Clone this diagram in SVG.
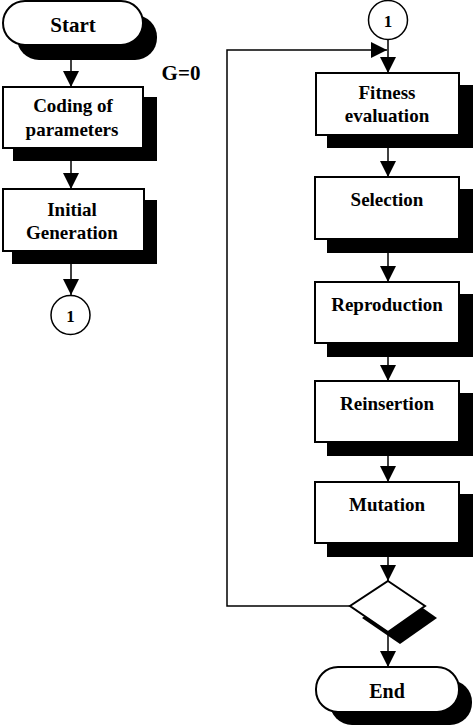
<svg xmlns="http://www.w3.org/2000/svg" width="474" height="727" viewBox="0 0 474 727">
<style>
.box{fill:#fff;stroke:#000;stroke-width:2}
.sh{fill:#000}
.t{font-family:"Liberation Serif","Times New Roman",serif;font-weight:bold;font-size:19px;text-anchor:middle;fill:#000}
.big{font-size:21px}
.c{fill:#fff;stroke:#000;stroke-width:1.5}
.ln{fill:none;stroke:#000;stroke-width:1.5}
</style>
<defs>
<marker id="ah" markerUnits="userSpaceOnUse" markerWidth="18" markerHeight="16" viewBox="0 0 18 16" refX="16" refY="8" orient="auto">
<path d="M0,0 L16,8 L0,16 Z" fill="#000"/>
</marker>
</defs>
<rect width="474" height="727" fill="#fff"/>
<g id="connectors">
<line class="ln" x1="71" y1="60" x2="71" y2="87" marker-end="url(#ah)"/>
<line class="ln" x1="71" y1="161" x2="71" y2="189" marker-end="url(#ah)"/>
<line class="ln" x1="71" y1="264" x2="71" y2="295" marker-end="url(#ah)"/>
<line class="ln" x1="388" y1="40" x2="388" y2="73" marker-end="url(#ah)"/>
<line class="ln" x1="388" y1="148" x2="388" y2="177" marker-end="url(#ah)"/>
<line class="ln" x1="388" y1="253" x2="388" y2="282" marker-end="url(#ah)"/>
<line class="ln" x1="388" y1="357" x2="388" y2="381" marker-end="url(#ah)"/>
<line class="ln" x1="388" y1="456" x2="388" y2="482" marker-end="url(#ah)"/>
<line class="ln" x1="388" y1="557" x2="388" y2="581" marker-end="url(#ah)"/>
<line class="ln" x1="388" y1="633" x2="388" y2="667" marker-end="url(#ah)"/>
<polyline class="ln" points="350,606 227,606 227,50 387,50" marker-end="url(#ah)"/>
</g>
<g id="start">
<rect class="sh" x="17" y="15" width="140" height="45" rx="22" ry="22"/>
<rect class="box" x="3" y="1" width="140" height="44" rx="22" ry="22"/>
<text class="t big" x="73" y="32">Start</text>
</g>
<text class="t big" x="181" y="80">G=0</text>
<g id="coding">
<rect class="sh" x="13" y="97" width="144" height="64"/>
<rect class="box" x="3" y="87" width="140" height="61"/>
<text class="t" x="73" y="112">Coding of</text>
<text class="t" x="72" y="136">parameters</text>
</g>
<g id="initial">
<rect class="sh" x="12" y="200" width="145" height="64"/>
<rect class="box" x="3" y="189" width="141" height="62"/>
<text class="t" x="72" y="216">Initial</text>
<text class="t" x="72" y="239">Generation</text>
</g>
<g id="conn1-left">
<circle class="c" cx="70.5" cy="315" r="19.5"/>
<text class="t" x="70.5" y="322" style="font-size:17px">1</text>
</g>
<g id="conn1-right">
<circle class="c" cx="388" cy="20" r="19.5"/>
<text class="t" x="388" y="27" style="font-size:17px">1</text>
</g>
<g id="fitness">
<rect class="sh" x="327" y="85" width="146" height="63"/>
<rect class="box" x="316" y="73" width="143" height="62"/>
<text class="t" x="387" y="99">Fitness</text>
<text class="t" x="387" y="122">evaluation</text>
</g>
<g id="selection">
<rect class="sh" x="327" y="189" width="146" height="64"/>
<rect class="box" x="315" y="177" width="144" height="62"/>
<text class="t" x="387" y="206">Selection</text>
</g>
<g id="reproduction">
<rect class="sh" x="327" y="294" width="146" height="63"/>
<rect class="box" x="315" y="282" width="144" height="61"/>
<text class="t" x="387" y="311">Reproduction</text>
</g>
<g id="reinsertion">
<rect class="sh" x="327" y="393" width="146" height="63"/>
<rect class="box" x="315" y="381" width="144" height="61"/>
<text class="t" x="387" y="410">Reinsertion</text>
</g>
<g id="mutation">
<rect class="sh" x="327" y="494" width="146" height="63"/>
<rect class="box" x="315" y="482" width="144" height="61"/>
<text class="t" x="387" y="511">Mutation</text>
</g>
<g id="decision">
<polygon class="sh" points="400,592 437,618 400,644 362,618"/>
<polygon class="box" points="388,581 425,606 388,632 350,606"/>
</g>
<g id="end">
<rect class="sh" x="330" y="680" width="142" height="45" rx="22" ry="22"/>
<rect class="box" x="316" y="667" width="143" height="45" rx="22" ry="22"/>
<text class="t" x="387" y="698" style="font-size:20px">End</text>
</g>
</svg>
